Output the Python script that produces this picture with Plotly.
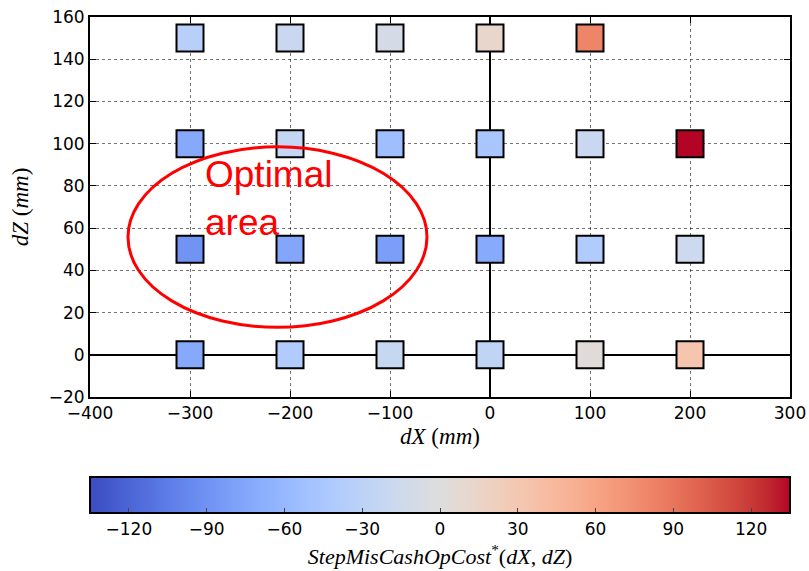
import plotly.graph_objects as go

# ---- data ----
dX = [-300, -200, -100, 0, 100,
      -300, -200, -100, 0, 100, 200,
      -300, -200, -100, 0, 100, 200,
      -300, -200, -100, 0, 100, 200]
dZ = [150, 150, 150, 150, 150,
      100, 100, 100, 100, 100, 100,
      50, 50, 50, 50, 50, 50,
      0, 0, 0, 0, 0, 0]
cost = [-34, -19, -8, 12, 81,
        -73, -24, -54, -46, -19, 135,
        -89, -75, -81, -72, -40, -17,
        -73, -40, -22, -27, 3, 33]
cbar_ticks = [-120, -90, -60, -30, 0, 30, 60, 90, 120]
x_ticks = [-400, -300, -200, -100, 0, 100, 200, 300]
y_ticks = [-20, 0, 20, 40, 60, 80, 100, 120, 140, 160]
c_lim = 135

# optimal-area ellipse (data coords)
ell_x = [-362, -63]
ell_z = [13, 98.5]
label_pos = (-287, 96)

coolwarm = [
    (59, 76, 192), (68, 90, 204), (77, 104, 215), (87, 117, 225), (98, 130, 234),
    (108, 142, 241), (119, 154, 247), (130, 165, 251), (141, 176, 254), (152, 185, 255),
    (163, 194, 255), (174, 201, 253), (184, 208, 249), (194, 213, 244), (204, 217, 238),
    (213, 219, 230), (221, 221, 221), (229, 216, 209), (236, 211, 197), (241, 204, 184),
    (245, 196, 173), (247, 187, 160), (247, 177, 148), (247, 166, 135), (244, 154, 123),
    (241, 141, 111), (236, 127, 99), (229, 112, 88), (222, 96, 77), (213, 80, 66),
    (203, 62, 56), (192, 40, 47), (180, 4, 38)]
n = len(coolwarm) - 1
cscale = [[i / n, "rgb(%d,%d,%d)" % c] for i, c in enumerate(coolwarm)]

tickfont = dict(family="DejaVu Sans", size=17, color="black")
mathfont = dict(family="Liberation Serif, DejaVu Serif", size=23, color="black")


def minus(vals):
    return [str(t).replace("-", "\u2212") for t in vals]


fig = go.Figure()
fig.add_trace(go.Scatter(
    x=dX, y=dZ, mode="markers",
    marker=dict(
        symbol="square", size=27, color=cost, colorscale=cscale,
        cmin=-c_lim, cmax=c_lim,
        line=dict(color="black", width=2),
        colorbar=dict(
            orientation="h", x=0.5, xanchor="center", y=-0.2105, yanchor="top",
            lenmode="pixels", len=700, thicknessmode="pixels", thickness=36,
            outlinecolor="black", outlinewidth=2, xpad=0, ypad=0,
            tickvals=cbar_ticks, ticktext=minus(cbar_ticks),
            ticks="inside", ticklen=6, tickcolor="#444",
            tickfont=tickfont,
            title=dict(text="<i>StepMisCashOpCost</i><sup>*</sup>(<i>dX</i>, <i>dZ</i>)",
                       side="bottom",
                       font=dict(family="Liberation Serif, DejaVu Serif", size=22, color="black")),
        ),
    ),
    showlegend=False, hoverinfo="x+y+text", text=cost,
))

fig.add_shape(type="circle", xref="x", yref="y",
              x0=ell_x[0], x1=ell_x[1], y0=ell_z[0], y1=ell_z[1],
              line=dict(color="red", width=3))

fig.add_annotation(x=label_pos[0], y=label_pos[1], xref="x", yref="y",
                   text="Optimal<br>area", showarrow=False, align="left",
                   xanchor="left", yanchor="top",
                   font=dict(family="Liberation Sans, Arial", size=37, color="red"))

axis_common = dict(
    showline=True, linecolor="black", linewidth=2, mirror="ticks",
    ticks="inside", ticklen=6, tickcolor="black",
    showgrid=True, gridcolor="rgba(0,0,0,0.55)", gridwidth=1, griddash="dot",
    zeroline=True, zerolinecolor="black", zerolinewidth=2,
    tickfont=tickfont, layer="above traces", automargin=False,
)

fig.update_xaxes(range=[-400, 300], tickvals=x_ticks, ticktext=minus(x_ticks),
                 title=dict(text="<i>dX</i> (<i>mm</i>)", font=mathfont, standoff=5),
                 **axis_common)
fig.update_yaxes(range=[-20, 160], tickvals=y_ticks, ticktext=minus(y_ticks),
                 title=dict(text="<i>dZ</i> (<i>mm</i>)", font=mathfont, standoff=14),
                 **axis_common)

fig.update_layout(
    width=809, height=571,
    margin=dict(l=90, r=19, t=17, b=174, autoexpand=False),
    plot_bgcolor="white", paper_bgcolor="white",
)

fig.write_html("out.html", config={"displayModeBar": False},
               post_script="document.body.style.margin='0';document.body.style.overflow='hidden';")
